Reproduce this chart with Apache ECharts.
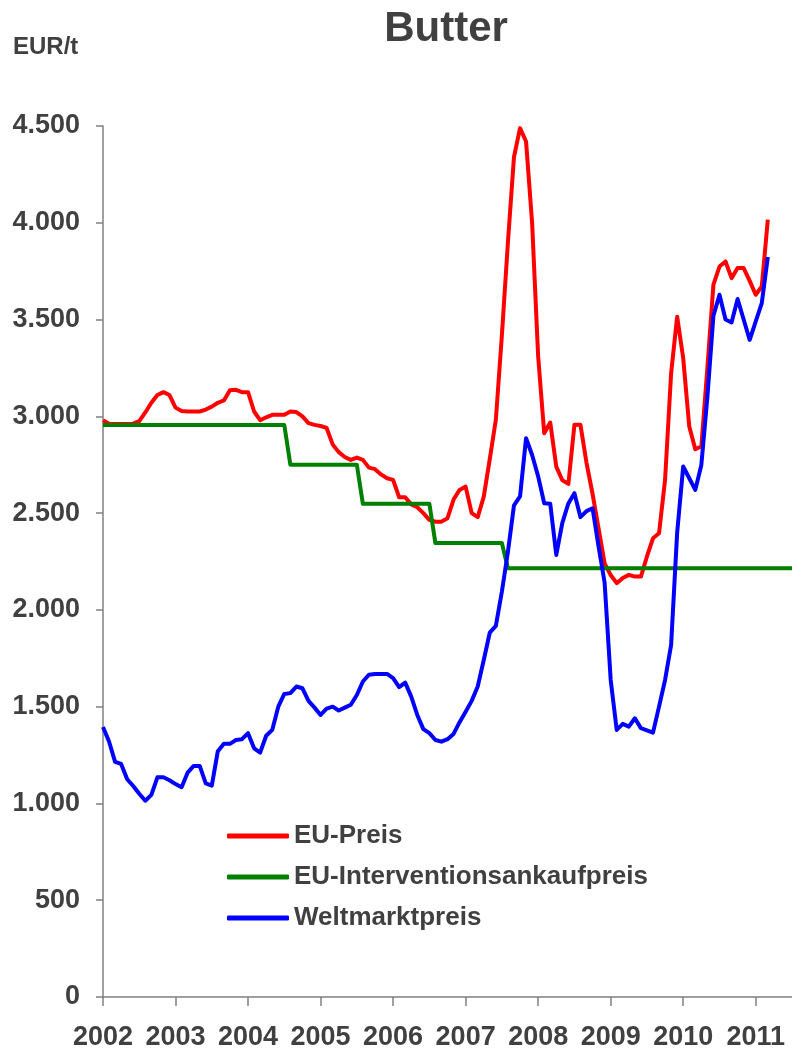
<!DOCTYPE html>
<html>
<head>
<meta charset="utf-8">
<script src="https://cdn.jsdelivr.net/npm/echarts@6/dist/echarts.min.js"></script>
<style>
html,body{margin:0;padding:0;background:#fff;}
#chart{width:792px;height:1053px;}
</style>
</head>
<body>
<div id="chart"></div>
<script>
// Monatswerte ab Januar 2002 (EUR/t)
var startYear = 2002;
var monthCount = 115; // Jan 2002 .. Jul 2011
var yTicks = [0, 500, 1000, 1500, 2000, 2500, 3000, 3500, 4000, 4500];
var seriesNames = ['EU-Preis', 'EU-Interventionsankaufpreis', 'Weltmarktpreis'];

var euPreis = [
	2980, 2962, 2960, 2960, 2960, 2962, 2975, 3020, 3070, 3110, 3125, 3110,
	3045, 3027, 3025, 3025, 3025, 3035, 3050, 3070, 3082, 3135, 3137, 3125,
	3125, 3025, 2980, 2995, 3008, 3008, 3008, 3025, 3022, 3000, 2965, 2956,
	2950, 2940, 2855, 2815, 2790, 2775, 2787, 2775, 2735, 2727, 2700, 2680,
	2672, 2582, 2582, 2545, 2530, 2500, 2465, 2456, 2456, 2474, 2570, 2620,
	2637, 2500, 2479, 2585, 2780, 2982, 3420, 3900, 4340, 4489, 4420, 4000,
	3310, 2913, 2968, 2740, 2670, 2651, 2956, 2956, 2760, 2600, 2420, 2240,
	2180, 2138, 2165, 2181, 2172, 2172, 2276, 2370, 2396, 2672, 3223, 3515,
	3300, 2947, 2830, 2844, 3250, 3680, 3774, 3800, 3714, 3766, 3766, 3700,
	3628, 3671, 4016
];

var interventionspreis = [
	2955, 2955, 2955, 2955, 2955, 2955, 2955, 2955, 2955, 2955, 2955, 2955,
	2955, 2955, 2955, 2955, 2955, 2955, 2955, 2955, 2955, 2955, 2955, 2955,
	2955, 2955, 2955, 2955, 2955, 2955, 2955, 2750, 2750, 2750, 2750, 2750,
	2750, 2750, 2750, 2750, 2750, 2750, 2750, 2548, 2548, 2548, 2548, 2548,
	2548, 2548, 2548, 2548, 2548, 2548, 2548, 2345, 2345, 2345, 2345, 2345,
	2345, 2345, 2345, 2345, 2345, 2345, 2345, 2215, 2215, 2215, 2215, 2215,
	2215, 2215, 2215, 2215, 2215, 2215, 2215, 2215, 2215, 2215, 2215, 2215,
	2215, 2215, 2215, 2215, 2215, 2215, 2215, 2215, 2215, 2215, 2215, 2215,
	2215, 2215, 2215, 2215, 2215, 2215, 2215, 2215, 2215, 2215, 2215, 2215,
	2215, 2215, 2215, 2215, 2215, 2215, 2215
];

var weltmarktpreis = [
	1395, 1320, 1215, 1204, 1125, 1090, 1050, 1014, 1044, 1135, 1135, 1120,
	1100, 1084, 1159, 1194, 1194, 1104, 1092, 1270, 1308, 1308, 1328, 1332,
	1363, 1285, 1263, 1350, 1380, 1500, 1566, 1570, 1604, 1595, 1530, 1495,
	1457, 1490, 1500, 1480, 1495, 1510, 1560, 1630, 1665, 1669, 1669, 1669,
	1647, 1601, 1624, 1552, 1457, 1384, 1363, 1328, 1319, 1332, 1359, 1420,
	1474, 1530, 1604, 1741, 1883, 1917, 2095, 2300, 2540, 2586, 2887, 2800,
	2690, 2551, 2548, 2284, 2450, 2550, 2603, 2479, 2510, 2525, 2327, 2140,
	1638, 1380, 1411, 1397, 1440, 1389, 1378, 1366, 1500, 1638, 1819, 2400,
	2741, 2680, 2620, 2749, 3100, 3520, 3628, 3500, 3485, 3606, 3500, 3395,
	3490, 3585, 3823
];

var textColor = '#404040';
var fontName = 'Liberation Sans, Arial, sans-serif';

//Kategorien: ein Eintrag je Monat
var months = new Array;
for (var i = 0; i < monthCount; i++) {
	var y = startYear + Math.floor(i / 12);
	var m = (i % 12) + 1;
	months.push(y + '-' + (m < 10 ? '0' + m : m));
}

function fmtThousand(v) {
	return String(v).replace(/\B(?=(\d{3})+(?!\d))/g, '.');
}

function lineSeries(name, data, color) {
	return {
		name: name,
		type: 'line',
		data: data,
		symbol: 'none',
		smooth: false,
		lineStyle: { color: color, width: 4, join: 'round' },
		itemStyle: { color: color }
	};
}

var option = {
	animation: false,
	backgroundColor: '#ffffff',
	title: [
		{
			text: 'Butter',
			left: 441,
			textAlign: 'center',
			top: 3,
			textStyle: { fontSize: 42, fontWeight: 'bold', color: textColor, fontFamily: fontName }
		},
		{
			text: 'EUR/t',
			left: 8,
			top: 30,
			textStyle: { fontSize: 24, fontWeight: 'bold', color: textColor, fontFamily: fontName }
		}
	],
	legend: {
		orient: 'vertical',
		left: 222,
		top: 816,
		itemWidth: 62,
		itemHeight: 5,
		itemGap: 11,
		icon: 'roundRect',
		data: seriesNames,
		textStyle: { fontSize: 26, fontWeight: 'bold', color: textColor, fontFamily: fontName, lineHeight: 30 }
	},
	grid: { left: 103, right: 0, top: 126, bottom: 56, containLabel: false },
	xAxis: {
		type: 'category',
		data: months,
		boundaryGap: false,
		axisLine: { show: true, lineStyle: { color: '#808080', width: 1.5 } },
		axisTick: {
			show: true,
			inside: false,
			length: 9,
			interval: function (idx) { return idx % 12 === 0; },
			lineStyle: { color: '#808080', width: 1.5 }
		},
		axisLabel: {
			interval: function (idx) { return idx % 12 === 0; },
			formatter: function (v) { return v.slice(0, 4); },
			margin: 27,
			fontSize: 27,
			fontWeight: 'bold',
			color: textColor,
			fontFamily: fontName
		},
		splitLine: { show: false }
	},
	yAxis: {
		type: 'value',
		min: yTicks[0],
		max: yTicks[yTicks.length - 1],
		interval: 500,
		axisLine: { show: true, lineStyle: { color: '#808080', width: 1.5 } },
		axisTick: { show: true, inside: false, length: 7, lineStyle: { color: '#808080', width: 1.5 } },
		axisLabel: {
			formatter: fmtThousand,
			margin: 23,
			fontSize: 27,
			fontWeight: 'bold',
			color: textColor,
			fontFamily: fontName
		},
		splitLine: { show: false }
	},
	series: [
		lineSeries(seriesNames[0], euPreis, '#ff0000'),
		lineSeries(seriesNames[1], interventionspreis, '#008000'),
		lineSeries(seriesNames[2], weltmarktpreis, '#0000ff')
	]
};

var myChart = echarts.init(document.getElementById('chart'));
myChart.setOption(option, true);
</script>
</body>
</html>
